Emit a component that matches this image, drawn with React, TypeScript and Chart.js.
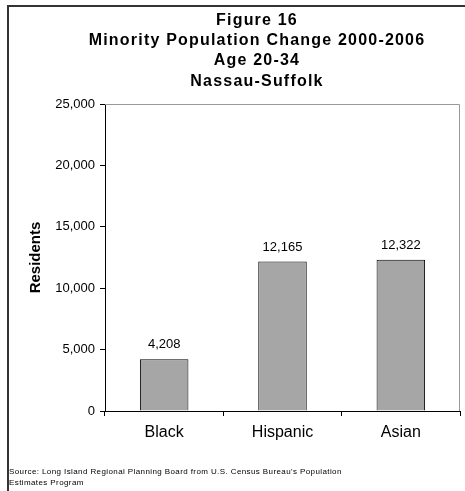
import React, { useEffect, useRef } from "react";
import { Chart, registerables } from "chart.js";

Chart.register(...registerables);

const categories = ["Black", "Hispanic", "Asian"];
const residents = [4208, 12165, 12322];
const titleLines = [
  "Figure 16",
  "Minority Population Change 2000-2006",
  "Age 20-34",
  "Nassau-Suffolk",
];
const sourceLines = [
  "Source: Long Island Regional Planning Board from U.S. Census Bureau's Population",
  "Estimates Program",
];
const yMax = 25000;
const yStep = 5000;
const yAxisTitle = "Residents";

const FONT = "Arial, 'Liberation Sans', sans-serif";

const decorPlugin = {
  id: "decor",
  beforeDatasetsDraw(chart: any) {
    const { ctx, chartArea } = chart;
    ctx.save();
    ctx.strokeStyle = "#999999";
    ctx.lineWidth = 1;
    ctx.beginPath();
    ctx.moveTo(chartArea.left, chartArea.top + 0.5);
    ctx.lineTo(chartArea.right - 0.5, chartArea.top + 0.5);
    ctx.lineTo(chartArea.right - 0.5, chartArea.bottom);
    ctx.stroke();
    ctx.restore();
  },
  afterDraw(chart: any) {
    const { ctx } = chart;
    ctx.save();
    ctx.fillStyle = "#000";
    ctx.textAlign = "center";
    ctx.textBaseline = "alphabetic";
    ctx.font = `bold 16px ${FONT}`;
    try {
      (ctx as any).letterSpacing = "1.2px";
    } catch (e) {}
    const baselines = [18, 38, 58, 79];
    const cx = chart.width / 2 + 20;
    titleLines.forEach((t, i) => ctx.fillText(t, cx, baselines[i]));
    try {
      (ctx as any).letterSpacing = "0px";
    } catch (e) {}
    ctx.font = `13px ${FONT}`;
    const meta = chart.getDatasetMeta(0);
    meta.data.forEach((bar: any, i: number) => {
      ctx.fillText(residents[i].toLocaleString("en-US"), bar.x, bar.y - 11);
    });
    ctx.textAlign = "left";
    ctx.font = `8px ${FONT}`;
    try {
      (ctx as any).letterSpacing = "0.4px";
    } catch (e) {}
    ctx.fillText(sourceLines[0], 0, 466.5);
    ctx.fillText(sourceLines[1], 0, 478);
    ctx.restore();
  },
};

export default function App() {
  const ref = useRef<HTMLCanvasElement>(null);
  useEffect(() => {
    if (!ref.current) return;
    const chart = new Chart(ref.current, {
      type: "bar",
      data: {
        labels: categories,
        datasets: [
          {
            data: residents,
            backgroundColor: "#A6A6A6",
            borderColor: "#000000",
            borderWidth: 1,
            barPercentage: 0.41,
            categoryPercentage: 1,
          },
        ],
      },
      options: {
        responsive: false,
        animation: false,
        layout: { padding: { top: 97, left: 0, right: 5, bottom: 40 } },
        plugins: {
          legend: { display: false },
          tooltip: { enabled: false },
          title: { display: false },
        },
        scales: {
          x: {
            afterFit: (s: any) => {
              s.height = 40;
            },
            grid: {
              display: true,
              drawOnChartArea: false,
              offset: true,
              tickLength: 5,
              color: "#000",
            },
            border: { display: true, color: "#000", width: 1 },
            ticks: {
              color: "#000",
              padding: 7,
              font: { family: FONT, size: 16 },
            },
          },
          y: {
            min: 0,
            max: yMax,
            afterFit: (s: any) => {
              s.width = 96;
            },
            grid: {
              display: true,
              drawOnChartArea: false,
              tickLength: 5,
              color: "#000",
            },
            border: { display: true, color: "#000", width: 1 },
            ticks: {
              stepSize: yStep,
              color: "#000",
              padding: 5,
              font: { family: FONT, size: 13 },
            },
            title: {
              display: true,
              text: yAxisTitle,
              color: "#000",
              padding: { top: 18, bottom: 0 },
              font: { family: FONT, size: 15, weight: "bold" },
            },
          },
        },
      },
      plugins: [decorPlugin],
    });
    return () => chart.destroy();
  }, []);
  return (
    <div
      style={{
        position: "absolute",
        left: 7,
        top: 5,
        borderTop: "2px solid #333",
        borderLeft: "2px solid #333",
        width: 456,
        height: 484,
      }}
    >
      <canvas ref={ref} width={456} height={484} style={{ display: "block" }} />
    </div>
  );
}
